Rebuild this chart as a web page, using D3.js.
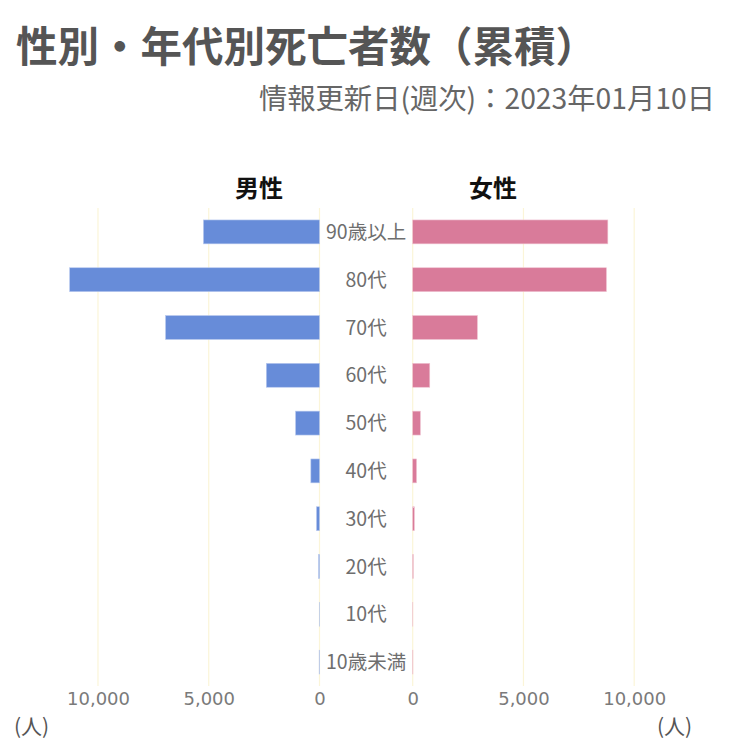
<!DOCTYPE html>
<html><head><meta charset="utf-8">
<script src="https://cdn.jsdelivr.net/npm/d3@7"></script>
<style>
html,body{margin:0;padding:0;background:#fff;}
svg{display:block;}
</style></head>
<body>
<svg id="chart" width="750" height="755"></svg>
<script>
const categories = ["90歳以上","80代","70代","60代","50代","40代","30代","20代","10代","10歳未満"];
const maleValues = [5240, 11280, 6950, 2400, 1080, 390, 135, 40, 10, 15];
const femaleValues = [8810, 8745, 2920, 770, 346, 173, 75, 25, 5, 10];
const tickValues = [0, 5000, 10000];
const titleText = "性別・年代別死亡者数（累積）";
const subtitleText = "情報更新日(週次)：2023年01月10日";
const maleLabel = "男性", femaleLabel = "女性", unitLabel = "(人)";

const svg = d3.select("#chart");
const font = "'Noto Sans CJK JP','Noto Sans',sans-serif";
const plotTop = 208, plotBottom = 686;
const leftZero = 319.5, rightZero = 412.7;
const pxPer10k = 221.5;
const xL = d3.scaleLinear().domain([0, 10000]).range([leftZero, leftZero - pxPer10k]);
const xR = d3.scaleLinear().domain([0, 10000]).range([rightZero, rightZero + pxPer10k]);
const y = d3.scaleBand().domain(categories).range([plotTop, plotBottom]).paddingInner(0.5).paddingOuter(0.25);

// title
svg.append("text").attr("x", 16).attr("y", 62).attr("font-family", font)
  .attr("font-weight", "bold").attr("font-size", 41.5).attr("fill", "#555").text(titleText);
svg.append("text").attr("x", 715).attr("y", 109).attr("text-anchor", "end").attr("font-family", font)
  .attr("font-size", 28.3).attr("fill", "#666").text(subtitleText);

// headers
svg.append("text").attr("x", 259).attr("y", 197).attr("text-anchor", "middle").attr("font-family", font)
  .attr("font-weight", "bold").attr("font-size", 24).attr("fill", "#111").text(maleLabel);
svg.append("text").attr("x", 493).attr("y", 197).attr("text-anchor", "middle").attr("font-family", font)
  .attr("font-weight", "bold").attr("font-size", 24).attr("fill", "#111").text(femaleLabel);

// grid lines
const grid = svg.append("g");
grid.selectAll("line.l").data(tickValues).join("line").attr("class","l")
  .attr("x1", d => xL(d)).attr("x2", d => xL(d)).attr("y1", plotTop).attr("y2", plotBottom)
  .attr("stroke", "#fbf5d8").attr("stroke-width", 1.2);
grid.selectAll("line.r").data(tickValues).join("line").attr("class","r")
  .attr("x1", d => xR(d)).attr("x2", d => xR(d)).attr("y1", plotTop).attr("y2", plotBottom)
  .attr("stroke", "#fbf5d8").attr("stroke-width", 1.2);

// bars
svg.append("g").selectAll("rect").data(categories).join("rect")
  .attr("x", (d,i) => xL(maleValues[i])).attr("width", (d,i) => leftZero - xL(maleValues[i]))
  .attr("y", d => y(d)).attr("height", y.bandwidth())
  .attr("fill", "#678cd9").attr("stroke", "#b8c9ee").attr("stroke-width", 0.6);
svg.append("g").selectAll("rect").data(categories).join("rect")
  .attr("x", rightZero).attr("width", (d,i) => xR(femaleValues[i]) - rightZero)
  .attr("y", d => y(d)).attr("height", y.bandwidth())
  .attr("fill", "#d97b9a").attr("stroke", "#efc2d1").attr("stroke-width", 0.6);

// category labels
svg.append("g").selectAll("text").data(categories).join("text")
  .attr("x", (leftZero + rightZero) / 2).attr("y", d => y(d) + y.bandwidth() / 2)
  .attr("dy", "0.36em").attr("text-anchor", "middle").attr("font-family", font)
  .attr("font-size", 19.5).attr("fill", "#6e6e6e").text(d => d);

// axes tick labels
const fmt = d3.format(",");
const axL = d3.axisBottom(xL).tickValues(tickValues).tickFormat(fmt).tickSize(0).tickPadding(6);
const axR = d3.axisBottom(xR).tickValues(tickValues).tickFormat(fmt).tickSize(0).tickPadding(6);
[axL, axR].forEach(ax => {
  const g = svg.append("g").attr("transform", `translate(0,${plotBottom})`).call(ax);
  g.select(".domain").remove();
  g.selectAll("text").attr("font-family", "'DejaVu Sans',Verdana,sans-serif").attr("font-size", 18).attr("fill", "#7a7a7a");
});

// unit labels
svg.append("text").attr("x", 14).attr("y", 734).attr("font-family", font)
  .attr("font-size", 21).attr("fill", "#555").text(unitLabel);
svg.append("text").attr("x", 657).attr("y", 734).attr("font-family", font)
  .attr("font-size", 21).attr("fill", "#555").text(unitLabel);
</script>
</body></html>
